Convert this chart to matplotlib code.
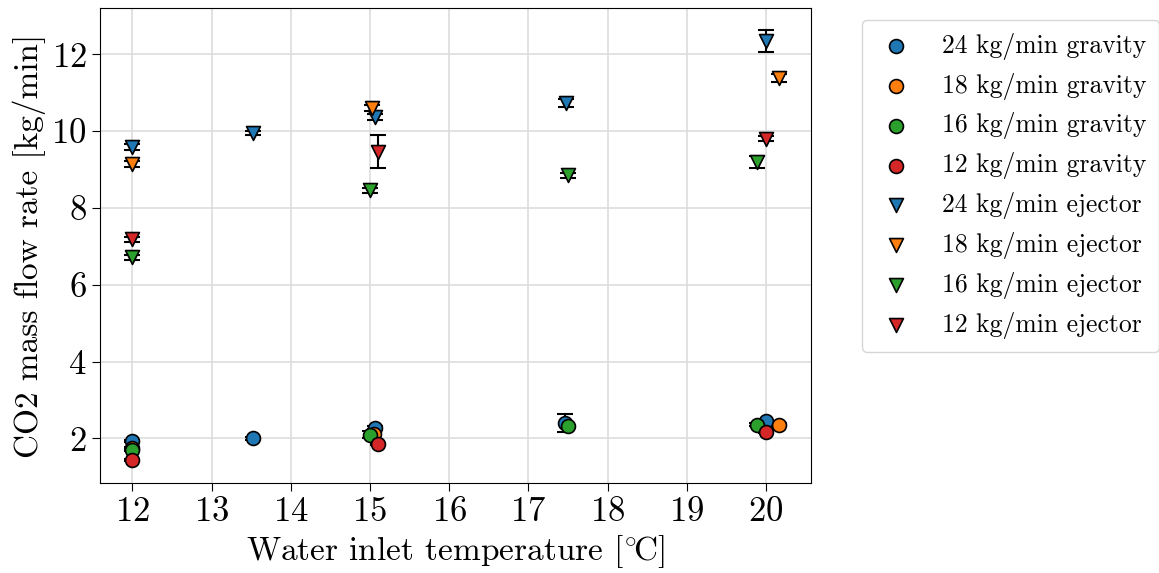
import matplotlib
matplotlib.use("Agg")
import matplotlib.pyplot as plt

plt.rcParams["font.family"] = "cmr10"
plt.rcParams["mathtext.fontset"] = "cm"
plt.rcParams["axes.formatter.use_mathtext"] = True

colors = ["#1f77b4", "#ff7f0e", "#2ca02c", "#d62728"]
rates = ["24", "18", "16", "12"]

# gravity (circles)
grav_x = [
    [12.0, 13.52, 15.06, 17.46, 20.0],
    [12.0, 15.05, 20.16],
    [12.0, 15.0, 17.5, 19.88],
    [12.0, 15.1, 20.0],
]
grav_y = [
    [1.93, 2.0, 2.28, 2.40, 2.45],
    [1.75, 2.12, 2.36],
    [1.71, 2.10, 2.31, 2.36],
    [1.43, 1.86, 2.17],
]
grav_err = [
    [0.03, 0.03, 0.04, 0.24, 0.04],
    [0.03, 0.04, 0.03],
    [0.03, 0.08, 0.04, 0.03],
    [0.03, 0.03, 0.03],
]

# ejector (triangles)
ej_x = [
    [12.0, 13.52, 15.06, 17.47, 20.0],
    [12.0, 15.03, 20.16],
    [12.0, 15.0, 17.5, 19.89],
    [12.0, 15.1, 20.0],
]
ej_y = [
    [9.58, 9.95, 10.37, 10.73, 12.35],
    [9.14, 10.59, 11.38],
    [6.71, 8.46, 8.85, 9.19],
    [7.18, 9.46, 9.80],
]
ej_err = [
    [0.07, 0.05, 0.08, 0.10, 0.29],
    [0.07, 0.08, 0.10],
    [0.06, 0.06, 0.06, 0.15],
    [0.07, 0.43, 0.07],
]

fig = plt.figure(figsize=(11.59, 5.73), dpi=100)
ax = fig.add_axes([0.0863, 0.157, 0.6135, 0.829])

handles = []
for i in range(4):
    ax.errorbar(grav_x[i], grav_y[i], yerr=grav_err[i], fmt="none",
                ecolor="black", elinewidth=1.5, capsize=6, capthick=1.5, zorder=2)
    h = ax.scatter(grav_x[i], grav_y[i], s=100, marker="o", color=colors[i],
                   edgecolors="black", linewidths=1.2, zorder=3,
                   label=f"{rates[i]} kg/min gravity")
    handles.append(h)
for i in range(4):
    ax.errorbar(ej_x[i], ej_y[i], yerr=ej_err[i], fmt="none",
                ecolor="black", elinewidth=1.5, capsize=6, capthick=1.5, zorder=2)
    h = ax.scatter(ej_x[i], ej_y[i], s=100, marker="v", color=colors[i],
                   edgecolors="black", linewidths=1.2, zorder=3,
                   label=f"{rates[i]} kg/min ejector")
    handles.append(h)

ax.set_xticks(range(12, 21))
ax.set_yticks([2, 4, 6, 8, 10, 12])
ax.tick_params(labelsize=25, length=6)
ax.set_xlabel(r"Water inlet temperature $[{}^{\circ}\!\mathrm{C}]$", fontsize=24)
ax.set_ylabel("CO2 mass flow rate [kg/min]", fontsize=24)
ax.grid(True, color="#dddddd", linewidth=1.2)
ax.set_axisbelow(True)

ax.legend(handles=handles, loc="upper left", bbox_to_anchor=(1.072, 0.975),
          borderaxespad=0, fontsize=18.5, markerscale=1.0, labelspacing=0.5,
          handlelength=1.6, handletextpad=1.0, borderpad=0.5,
          edgecolor="#cccccc")

fig.savefig("out.png", dpi=100)
